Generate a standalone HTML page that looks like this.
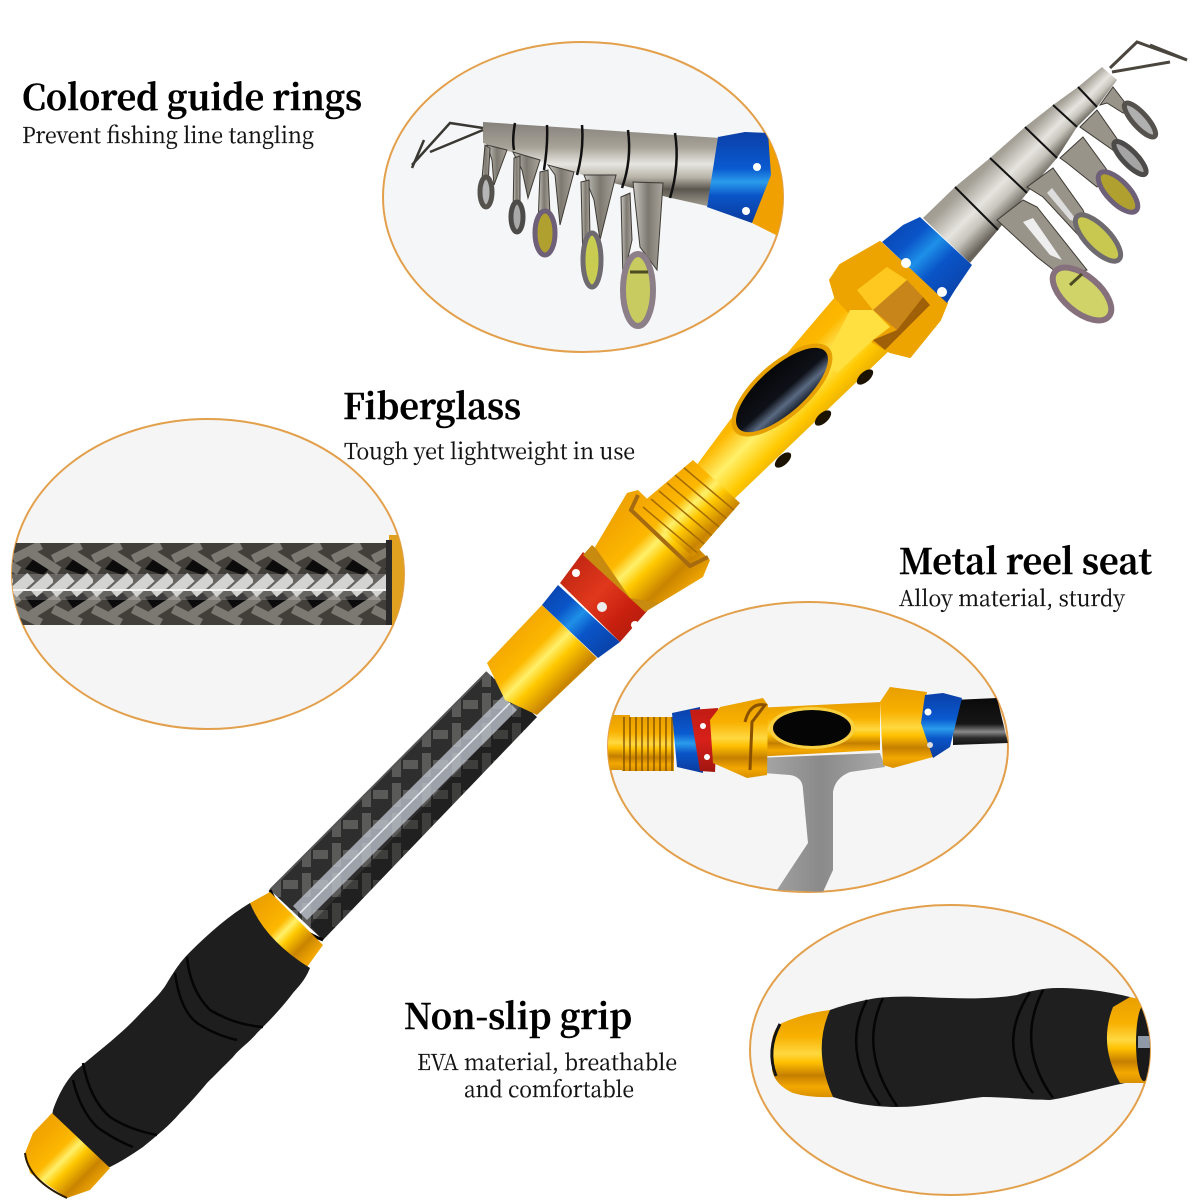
<!DOCTYPE html>
<html><head><meta charset="utf-8"><style>
html,body{margin:0;padding:0;background:#fff;width:1200px;height:1200px;overflow:hidden}
svg{display:block}
.t{font-family:"Noto Serif CJK SC","DejaVu Serif","Liberation Serif",serif;font-weight:700;font-size:35px;fill:#000;stroke:#000;stroke-width:.4}
.s{font-family:"Noto Serif CJK SC","DejaVu Serif","Liberation Serif",serif;font-weight:400;font-size:22px;fill:#111;stroke:#111;stroke-width:.2}
</style></head><body>
<svg xmlns="http://www.w3.org/2000/svg" width="1200" height="1200" viewBox="0 0 1200 1200">
<defs>
<linearGradient id="gold" x1="0" y1="0" x2="1" y2="1">
<stop offset="0" stop-color="#e39b00"/><stop offset=".25" stop-color="#f4a800"/><stop offset=".42" stop-color="#fdb800"/><stop offset=".5" stop-color="#fff06a"/><stop offset=".58" stop-color="#ffc800"/><stop offset=".72" stop-color="#c98400"/><stop offset=".86" stop-color="#f3a800"/><stop offset="1" stop-color="#d08c00"/></linearGradient>
<linearGradient id="goldV" x1="0" y1="0" x2="0" y2="1">
<stop offset="0" stop-color="#e89f00"/><stop offset=".3" stop-color="#f8b000"/><stop offset=".5" stop-color="#ffd840"/><stop offset=".6" stop-color="#ffc000"/><stop offset=".75" stop-color="#c57f00"/><stop offset=".88" stop-color="#f3a800"/><stop offset="1" stop-color="#d89000"/></linearGradient>
<linearGradient id="blue" x1="0" y1="0" x2="1" y2="1">
<stop offset="0" stop-color="#0b3fa8"/><stop offset=".3" stop-color="#0a55c8"/><stop offset=".45" stop-color="#1e90e8"/><stop offset=".6" stop-color="#0a55c8"/><stop offset="1" stop-color="#0b3a9c"/></linearGradient>
<linearGradient id="blueV" x1="0" y1="0" x2="0" y2="1">
<stop offset="0" stop-color="#0b3fa8"/><stop offset=".4" stop-color="#0a5ad0"/><stop offset=".55" stop-color="#2a9cec"/><stop offset=".7" stop-color="#0a55c8"/><stop offset="1" stop-color="#0b3a9c"/></linearGradient>
<linearGradient id="red" x1="0" y1="0" x2="1" y2="1">
<stop offset="0" stop-color="#b8200f"/><stop offset=".45" stop-color="#e0381c"/><stop offset=".7" stop-color="#c8200f"/><stop offset="1" stop-color="#a81a0c"/></linearGradient>
<linearGradient id="redV" x1="0" y1="0" x2="0" y2="1">
<stop offset="0" stop-color="#c01c14"/><stop offset=".5" stop-color="#d8201a"/><stop offset="1" stop-color="#a01610"/></linearGradient>
<linearGradient id="silver" x1="0" y1="0" x2="1" y2="1">
<stop offset="0" stop-color="#8f8b82"/><stop offset=".28" stop-color="#a5a197"/><stop offset=".5" stop-color="#e6e4df"/><stop offset=".62" stop-color="#c8c5bd"/><stop offset=".78" stop-color="#66625a"/><stop offset=".9" stop-color="#8a867c"/><stop offset="1" stop-color="#a5a197"/></linearGradient>
<linearGradient id="silverV" x1="0" y1="0" x2="0" y2="1">
<stop offset="0" stop-color="#85807a"/><stop offset=".3" stop-color="#a8a398"/><stop offset=".5" stop-color="#e6e5e0"/><stop offset=".66" stop-color="#b8b3a8"/><stop offset=".8" stop-color="#5a564e"/><stop offset="1" stop-color="#a09b90"/></linearGradient>
<linearGradient id="silverH" x1="0" y1="0" x2="1" y2="0">
<stop offset="0" stop-color="#c9c7c2"/><stop offset=".5" stop-color="#7d7970"/><stop offset="1" stop-color="#a9a59c"/></linearGradient>
<linearGradient id="black" x1="0" y1="0" x2="0" y2="1">
<stop offset="0" stop-color="#0a0a0a"/><stop offset=".55" stop-color="#161616"/><stop offset=".72" stop-color="#8a8a8a"/><stop offset=".85" stop-color="#2a2a2a"/><stop offset="1" stop-color="#111"/></linearGradient>
<linearGradient id="handle" x1="0" y1="0" x2="1" y2="0">
<stop offset="0" stop-color="#a8a8a8"/><stop offset=".5" stop-color="#8a8a8a"/><stop offset="1" stop-color="#a9a9a9"/></linearGradient>
<linearGradient id="win" x1="0" y1="0" x2="0" y2="1">
<stop offset="0" stop-color="#060709"/><stop offset=".55" stop-color="#0e1118"/><stop offset=".78" stop-color="#5a6a82"/><stop offset="1" stop-color="#1a2230"/></linearGradient>
<pattern id="braid" width="40" height="82" patternUnits="userSpaceOnUse" patternTransform="translate(13 543)">
<rect width="40" height="82" fill="#423f3b"/>
<g fill="#0c0c0c"><path d="M22 14L40 22L30 32L12 26Z"/><path d="M22 68L40 60L30 50L12 54Z"/></g>
<g stroke="#7c7872" stroke-width="9" fill="none">
<path d="M18 10L46 28M-22 10L6 28"/>
<path d="M18 72L46 54M-22 72L6 54"/>
<path d="M0 16L28 2M40 16L68 2M-40 16L-12 2"/>
<path d="M0 66L28 80M40 66L68 80M-40 66L-12 80"/>
</g>
<g stroke="#c8c8c6" stroke-width="11" fill="none">
<path d="M0 50L18 34M40 50L58 34M20 50L38 34"/>
</g>
</pattern>
<pattern id="carbon" width="30" height="30" patternUnits="userSpaceOnUse">
<rect width="30" height="30" fill="#2e2e2e"/>
<g fill="#5a5a58"><rect x="2" y="3" width="9" height="24"/><rect x="13" y="10" width="15" height="9"/></g>
</pattern>
<clipPath id="c1"><ellipse cx="583" cy="197" rx="200" ry="155"/></clipPath>
<clipPath id="c2"><ellipse cx="208" cy="574" rx="196" ry="155"/></clipPath>
<clipPath id="c3"><ellipse cx="808" cy="747" rx="200" ry="145"/></clipPath>
<clipPath id="c4"><ellipse cx="950" cy="1050" rx="200" ry="145"/></clipPath>
<clipPath id="thr"><polygon points="637,507 693,460 740,503 693,557"/></clipPath>
</defs>
<rect width="1200" height="1200" fill="#fff"/>

<!-- inset 1 -->
<ellipse cx="583" cy="197" rx="200" ry="155" fill="#f5f6f7" stroke="#e3a04c" stroke-width="2"/>
<g clip-path="url(#c1)">
<polygon points="768,133 785,170 783,210 778,236 752,223" fill="#f0a000"/>
<path d="M483 122L720 138L707 206L667 197L583 175L483 143Z" fill="url(#silverV)"/>
<path d="M718 137L745 132L768 133L771 175L752 223L707 207Z" fill="url(#blueV)"/>
<circle cx="757" cy="167" r="4" fill="#fff"/><circle cx="746" cy="211" r="4" fill="#fff"/>
<g stroke="#111" stroke-width="2.5" fill="none">
<path d="M515 123Q512 140 514 150"/><path d="M547 125Q548 145 544 170"/><path d="M582 125Q584 150 577 175"/><path d="M628 130Q632 160 622 188"/><path d="M675 133Q680 165 670 198"/>
</g>
<g stroke="#3a3833" stroke-width="2.5" fill="none">
<path d="M483 128L450 123L412 165"/><path d="M483 130L430 152"/><path d="M424 140L412 168"/>
</g>
<!-- guides -->
<g fill="url(#silverH)" stroke="#3e3a34" stroke-width="1">
<polygon points="633,182 663,183 657,270 640,247"/><polygon points="621,197 630,193 632,240 623,280"/>
<polygon points="584,175 616,175 600,240 594,200"/><polygon points="581,182 589,180 590,240 583,265"/>
<polygon points="548,165 574,172 560,225 555,175"/><polygon points="540,172 548,170 550,215 538,225"/>
<polygon points="513,152 540,160 528,198 522,170"/><polygon points="514,158 520,156 520,205 513,215"/>
<polygon points="487,145 507,150 494,185 492,160"/><polygon points="485,145 490,148 488,185 481,190"/>
</g>
<ellipse cx="638" cy="290" rx="15" ry="36" fill="#c8cc60" stroke="#8d7f88" stroke-width="6"/>
<path d="M630 272H648" stroke="#4b4a22" stroke-width="3"/>
<ellipse cx="592" cy="260" rx="9" ry="27" fill="#c8cc50" stroke="#6e6a70" stroke-width="5"/>
<ellipse cx="545" cy="233" rx="10" ry="22" fill="#b0a030" stroke="#6e6078" stroke-width="5"/>
<ellipse cx="517" cy="217" rx="6" ry="15" fill="#a8a8a8" stroke="#4d4a4a" stroke-width="5"/>
<ellipse cx="486" cy="192" rx="6" ry="15" fill="#b5b5b5" stroke="#55524e" stroke-width="5"/>
</g>

<!-- inset 2 -->
<ellipse cx="208" cy="574" rx="196" ry="155" fill="#f5f5f5" stroke="#e3a04c" stroke-width="2"/>
<g clip-path="url(#c2)">
<rect x="0" y="543" width="392" height="82" fill="url(#braid)"/>
<rect x="0" y="574" width="392" height="26" fill="#fff" opacity=".2"/>
<rect x="0" y="589" width="392" height="2" fill="#f2f2f2"/>
<rect x="389" y="535" width="16" height="90" fill="#e0a020"/>
<rect x="386" y="540" width="6" height="85" fill="#2a2a2a"/>
</g>

<!-- inset 3 -->
<ellipse cx="808" cy="747" rx="200" ry="145" fill="#f5f5f5" stroke="#e3a04c" stroke-width="2"/>
<g clip-path="url(#c3)">
<path d="M757 758L880 753L885 767L850 772Q835 778 833 792L833 870L823 892L777 890L808 843L803 790Q803 777 790 775L763 773Z" fill="url(#handle)"/>
<rect x="600" y="715" width="30" height="55" fill="url(#goldV)"/>
<rect x="622" y="717" width="52" height="54" fill="url(#goldV)"/>
<g stroke="#7a4a00" stroke-width="1.3"><path d="M624 717V771M630 717V771M636 717V771M642 717V771M648 717V771M654 717V771M660 717V771M666 717V771M672 717V771"/></g>
<polygon points="672,713 700,707 703,773 677,767" fill="url(#blueV)"/>
<polygon points="690,710 718,708 715,772 700,771" fill="url(#redV)"/>
<circle cx="703" cy="726" r="3" fill="#fff"/><circle cx="707" cy="757" r="3" fill="#fff"/>
<polygon points="753,708 880,702 880,750 753,757" fill="url(#goldV)"/>
<ellipse cx="812" cy="728" rx="43" ry="21" fill="#f8d040"/>
<ellipse cx="812" cy="728" rx="39" ry="18" fill="#050505"/>
<polygon points="710,720 720,707 763,698 768,705 767,775 747,778 713,763" fill="url(#goldV)"/>
<path d="M745 722Q750 702 765 705L752 722L750 770" fill="none" stroke="#8a5200" stroke-width="3"/>
<polygon points="880,702 890,687 927,692 922,720 933,757 893,768 883,765" fill="url(#goldV)"/>
<polygon points="953,700 997,698 1008,743 953,745" fill="url(#black)"/>
<polygon points="925,695 943,693 962,698 950,747 933,758 921,723" fill="url(#blueV)"/>
<circle cx="928" cy="712" r="3.5" fill="#fff"/><circle cx="930" cy="745" r="3" fill="#ddd"/>
</g>

<!-- inset 4 -->
<ellipse cx="950" cy="1050" rx="200" ry="145" fill="#f5f5f5" stroke="#e3a04c" stroke-width="2"/>
<g clip-path="url(#c4)">
<path d="M772 1040Q774 1028 782 1023Q805 1013 830 1010L833 1097Q810 1098 793 1093Q775 1085 772 1070Z" fill="url(#goldV)"/>
<path d="M780 1024Q766 1050 776 1076" stroke="#151515" stroke-width="3" fill="none"/>
<path d="M830 1010C850 1003 865 1000 877 998C905 995 930 998 950 998C975 999 1000 998 1017 995C1030 991 1045 988 1057 988C1085 988 1110 992 1130 997L1125 1083C1100 1088 1075 1096 1050 1100C1030 1100 1005 1097 983 1097C955 1100 925 1107 897 1107C875 1107 855 1104 833 1097Q812 1050 830 1010Z" fill="#1f1f1f"/>
<path d="M867 1000Q840 1050 880 1105M883 998Q858 1050 897 1106M1030 992Q995 1045 1033 1093M1043 990Q1015 1045 1053 1098" stroke="#050505" stroke-width="2.5" fill="none"/>
<path d="M1113 1007L1130 997L1143 1000L1148 1083L1120 1083Q1098 1045 1113 1007Z" fill="url(#goldV)"/>
<ellipse cx="1144" cy="1043" rx="8" ry="38" fill="#1a1a1a"/>
<rect x="1138" y="1036" width="12" height="12" fill="#8f99a8"/>
</g>

<!-- main rod -->
<polygon points="270,890 487,672 537,717 323,940" fill="url(#carbon)"/>
<polygon points="310,925 522,704 537,717 323,940" fill="#000" opacity=".3"/>
<polygon points="293,906 503,696 517,710 307,920" fill="#bcc2cc" opacity=".78"/>
<path d="M300 913L510 703" stroke="#eef0f4" stroke-width="1.5"/>
<path d="M270 890L487 672" stroke="#555" stroke-width="2"/>
<path d="M270 890Q285 925 323 940" stroke="#000" stroke-width="3" fill="none"/>
<polygon points="250,903 270,892 323,945 307,967 277,960 253,933" fill="url(#gold)"/>
<path d="M53 1110C60 1090 70 1075 80 1067C100 1050 120 1035 137 1017C150 1003 160 995 167 983C175 970 180 962 190 952C210 932 230 915 250 903Q265 940 310 968C305 980 300 985 293 993C280 1010 270 1020 257 1033C250 1042 240 1048 233 1057C225 1065 215 1075 207 1083C197 1095 190 1103 180 1113C168 1127 155 1137 143 1147C130 1156 120 1162 110 1167Q75 1165 60 1137Q50 1125 53 1110Z" fill="#1e1e1e"/>
<path d="M175 973Q180 1010 197 1023Q215 1035 237 1040M187 957Q190 990 210 1010Q235 1025 263 1027M73 1080Q80 1110 97 1127Q115 1140 133 1147M83 1063Q90 1100 110 1117Q130 1130 157 1135" stroke="#050505" stroke-width="2.5" fill="none"/>
<polygon points="52,1113 110,1168 90,1190 67,1198 30,1173 25,1153 33,1133" fill="url(#gold)"/>
<path d="M25 1153Q28 1180 67 1198" stroke="#2a1a00" stroke-width="2" fill="none"/>
<polygon points="487,663 542,605 597,658 537,715 505,700" fill="url(#gold)"/>
<polygon points="542,605 558,585 620,642 598,658" fill="url(#blue)"/>
<polygon points="560,583 583,552 648,610 620,642" fill="url(#red)"/>
<circle cx="576" cy="573" r="4" fill="#fff"/><circle cx="602" cy="607" r="5" fill="#eee"/><circle cx="635" cy="625" r="4" fill="#fff"/>
<polygon points="583,555 592,545 660,603 645,612" fill="#c98a10"/>
<polygon points="595,547 627,493 638,490 710,560 703,577 660,603 630,598" fill="url(#gold)"/>
<polygon points="693,470 730,420 835,297 890,350 733,500" fill="url(#gold)"/>
<polygon points="637,507 693,460 740,503 693,557" fill="url(#gold)"/>
<g clip-path="url(#thr)" stroke="#a56a00" stroke-width="1.5">
<path d="M635 515L700 570M643 507L708 562M651 499L716 554M659 491L724 546M667 483L732 538M675 475L740 530M683 467L748 522"/>
</g>
<path d="M638 495L631 510L690 566L708 557" stroke="#a66a10" stroke-width="4" fill="none"/>
<polygon points="830,280 840,265 880,242 947,303 940,320 910,357 890,352 873,342 847,310 835,297" fill="#eea400" stroke="#eea400" stroke-width="2" stroke-linejoin="round"/>
<polygon points="857,290 887,267 907,280 873,310" fill="#ffc820"/>
<polygon points="873,310 907,280 923,297 897,330" fill="#c8861a"/>
<polygon points="850,310 873,310 890,327 873,340 837,373 825,360" fill="#ffe040"/>
<polygon points="897,330 923,297 930,305 885,350 873,340" fill="#a06008"/>
<g transform="rotate(-41.6 782 390)">
<ellipse cx="782" cy="390" rx="63" ry="27" fill="#e6a000"/>
<ellipse cx="782" cy="390" rx="58" ry="23" fill="url(#win)"/>
</g>
<ellipse cx="783" cy="460" rx="10" ry="5" fill="#1c1200" transform="rotate(-42 783 460)"/>
<ellipse cx="823" cy="418" rx="10" ry="5" fill="#1c1200" transform="rotate(-42 823 418)"/>
<ellipse cx="865" cy="377" rx="10" ry="5" fill="#1c1200" transform="rotate(-42 865 377)"/>
<polygon points="923,218 955,187 998,230 970,263" fill="url(#silver)"/>
<polygon points="955,187 990,158 1027,193 998,230" fill="url(#silver)"/>
<polygon points="990,158 1025,127 1057,158 1027,193" fill="url(#silver)"/>
<polygon points="1025,127 1053,105 1077,127 1057,158" fill="url(#silver)"/>
<polygon points="1053,105 1078,87 1097,107 1077,127" fill="url(#silver)"/>
<polygon points="1078,87 1102,67 1117,80 1097,107" fill="url(#silver)"/>
<g stroke="#111" stroke-width="2" fill="none">
<path d="M955 187L998 230M990 158L1027 193M1025 127L1057 158M1053 105L1077 127M1078 87L1097 107"/>
</g>
<polygon points="882,242 903,225 920,217 972,265 955,290 947,303" fill="url(#blue)"/>
<circle cx="906" cy="263" r="5" fill="#fff"/><circle cx="942" cy="292" r="5" fill="#fff"/>
<g stroke="#4a463e" stroke-width="3" fill="none">
<path d="M1110 68L1137 42L1187 60"/><path d="M1112 72L1170 62"/><path d="M1150 45L1187 60"/>
</g>
<!-- guides main -->
<g fill="#98948a" stroke="#3e3a34" stroke-width="1">
<path d="M997 220L1023 200L1037 207L1087 270L1060 275L1037 257Z"/>
<path d="M1027 187L1053 168L1083 210L1093 237L1080 237L1043 197Z"/>
<path d="M1060 158L1083 137L1107 170L1097 187L1067 163Z"/>
<path d="M1080 127L1097 110L1127 153L1117 153Z"/>
<path d="M1100 105L1113 87L1133 113L1123 113L1107 103Z"/>
</g>
<path d="M1023 222L1033 218L1062 260L1050 255Z" fill="#eee"/>
<path d="M1047 193L1052 188L1078 222L1070 220Z" fill="#ddd"/>
<ellipse cx="1082" cy="294" rx="35" ry="18" transform="rotate(40 1082 294)" fill="#d0d468" stroke="#86707c" stroke-width="6"/>
<path d="M1070 285L1082 274" stroke="#4b4a22" stroke-width="3"/>
<ellipse cx="1098" cy="238" rx="30" ry="12" transform="rotate(46 1098 238)" fill="#c8c850" stroke="#6e6a70" stroke-width="5"/>
<ellipse cx="1118" cy="192" rx="26" ry="11" transform="rotate(46 1118 192)" fill="#b0a030" stroke="#6e6078" stroke-width="5"/>
<ellipse cx="1130" cy="158" rx="22" ry="7" transform="rotate(46 1130 158)" fill="#a5a5a5" stroke="#4d4a4a" stroke-width="5"/>
<ellipse cx="1140" cy="120" rx="22" ry="7" transform="rotate(48 1140 120)" fill="#b0b0b0" stroke="#55524e" stroke-width="5"/>

<!-- text -->
<text class="t" x="22" y="110" textLength="340" lengthAdjust="spacingAndGlyphs">Colored guide rings</text>
<text class="s" x="22" y="143" textLength="292" lengthAdjust="spacingAndGlyphs">Prevent fishing line tangling</text>
<text class="t" x="343" y="419" textLength="178" lengthAdjust="spacingAndGlyphs">Fiberglass</text>
<text class="s" x="344" y="459" textLength="291" lengthAdjust="spacingAndGlyphs">Tough yet lightweight in use</text>
<text class="t" x="899" y="574" textLength="253" lengthAdjust="spacingAndGlyphs">Metal reel seat</text>
<text class="s" x="899" y="606" textLength="226" lengthAdjust="spacingAndGlyphs">Alloy material, sturdy</text>
<text class="t" x="404" y="1029" textLength="228" lengthAdjust="spacingAndGlyphs">Non-slip grip</text>
<text class="s" x="417" y="1070" textLength="260" lengthAdjust="spacingAndGlyphs">EVA material, breathable</text>
<text class="s" x="464" y="1097" textLength="170" lengthAdjust="spacingAndGlyphs">and comfortable</text>
</svg>
</body></html>
